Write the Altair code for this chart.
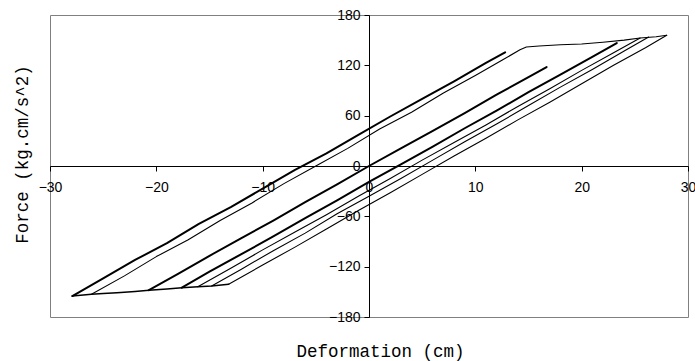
import altair as alt
import pandas as pd

# ---- data (deformation in cm, force in kg.cm/s^2) ----
seg_names = ["U1", "U2", "P1", "L1", "L2", "L3", "L4", "L5"]

u1_d = [-27.9, -25, -22, -19, -16, -13, -10, -7, -4, -1, 2, 5, 8, 11, 12.8]
u1_f = [-155, -134, -112, -92, -69, -49, -27, -5, 15, 37, 59, 80, 101, 123, 135.5]

u2_d = [-26.1, -23, -20, -17, -14, -11, -8, -5, -2, 1, 4, 7, 10, 12.5, 14.2, 14.8, 16,
        18, 20, 22, 24, 25.5, 27, 28]
u2_f = [-153, -131, -108, -88, -65, -44, -21, 0, 21, 44, 64, 87, 108, 126, 138.6, 141.8,
        143, 144.5, 145.5, 147.5, 150, 152.6, 154, 155.8]

p1_d = [-13.2, -14.8, -16.1, -17.6, -19, -20.7, -22, -23.7, -25, -26.1, -27.9]
p1_f = [-141, -143, -144, -145, -146.5, -148, -149.5, -151, -152, -153, -155]

l1_d = [-20.7, -18, -15, -12, -9, -6, -3, 0, 3, 6, 9, 12, 15, 16.7]
l1_f = [-148, -129, -107, -86, -65, -43, -22, 0, 21, 42, 63, 85, 106, 118]

l2_d = [-17.6, -15, -12, -9, -6, -3, 0, 3, 6, 9, 12, 15, 18, 21, 23.3]
l2_f = [-145, -126, -105, -84, -62, -41, -19, 2, 23, 45, 66, 88, 109, 130, 146.6]

l3_d = [-16.1, -13, -10, -7, -4, -1, 2, 5, 8, 11, 14, 17, 20, 23, 25.5]
l3_f = [-144, -122, -100, -79, -58, -36, -15, 7, 28, 49, 71, 92, 114, 135, 152.6]

l4_d = [-14.8, -12, -9, -6, -3, 0, 3, 6, 9, 12, 15, 18, 21, 24, 26.3]
l4_f = [-143, -123, -101, -80, -57, -36, -15, 7, 29, 50, 72, 94, 115, 137, 153.8]

l5_d = [-13.2, -10, -7, -4, -1, 2, 5, 8, 11, 14, 17, 20, 23, 26, 28]
l5_f = [-141, -118, -97, -75, -53, -32, -10, 12, 33, 55, 76, 98, 120, 141, 155.8]

x_ticks = [-30, -20, -10, 0, 10, 20, 30]
y_ticks = [-180, -120, -60, 0, 60, 120, 180]

# ---- styling (kept apart from the data) ----
line_width = {"U1": 2.0, "U2": 1.1, "P1": 1.5, "L1": 2.0, "L2": 2.0,
              "L3": 1.1, "L4": 1.1, "L5": 1.1}

series = {"U1": (u1_d, u1_f), "U2": (u2_d, u2_f), "P1": (p1_d, p1_f),
          "L1": (l1_d, l1_f), "L2": (l2_d, l2_f), "L3": (l3_d, l3_f),
          "L4": (l4_d, l4_f), "L5": (l5_d, l5_f)}

rows = []
for name in seg_names:
    ds, fs = series[name]
    for i, (d, f) in enumerate(zip(ds, fs)):
        rows.append({"seg": name, "i": i, "d": d, "f": f, "w": line_width[name]})
df = pd.DataFrame(rows)

W, H = 638, 302

x_axis = alt.Axis(
    values=x_ticks, orient="bottom", offset=-H / 2, grid=False,
    domainColor="black", domainWidth=1, tickColor="black", tickSize=5, tickWidth=1,
    labelFont="Liberation Sans", labelFontSize=14, labelColor="black",
    labelPadding=9, labelOverlap=False, labelFlush=False,
    title="Deformation (cm)", titleFont="Liberation Mono", titleFontSize=17.5,
    titleFontWeight="normal", titleColor="black",
    titleX=330, titleY=185, titleBaseline="middle", titleAlign="center",
)
y_axis = alt.Axis(
    values=y_ticks, orient="left", offset=-W / 2, grid=False,
    domainColor="black", domainWidth=1, tickColor="black", tickSize=5, tickWidth=1,
    labelFont="Liberation Sans", labelFontSize=14, labelColor="black",
    labelPadding=4, labelOverlap=False, labelFlush=False,
    title="Force (kg.cm/s^2)", titleFont="Liberation Mono", titleFontSize=17.5,
    titleFontWeight="normal", titleColor="black",
    titleX=-347, titleY=139, titleAngle=270, titleBaseline="middle", titleAlign="center",
)

chart = (
    alt.Chart(df)
    .mark_line(color="black", strokeJoin="round", strokeCap="round")
    .encode(
        x=alt.X("d:Q", scale=alt.Scale(domain=[-30, 30], nice=False, zero=False), axis=x_axis),
        y=alt.Y("f:Q", scale=alt.Scale(domain=[-180, 180], nice=False, zero=False), axis=y_axis),
        detail="seg:N",
        order="i:Q",
        strokeWidth=alt.StrokeWidth("w:Q", scale=None, legend=None),
    )
    .properties(
        width=W, height=H,
        padding={"left": 50, "top": 15, "right": 7, "bottom": 44},
        autosize=alt.AutoSizeParams(type="none"),
        background="white",
    )
    .configure_view(stroke="#808080", strokeWidth=1)
)

chart.save("out.html", embed_options={"renderer": "svg", "actions": False})
